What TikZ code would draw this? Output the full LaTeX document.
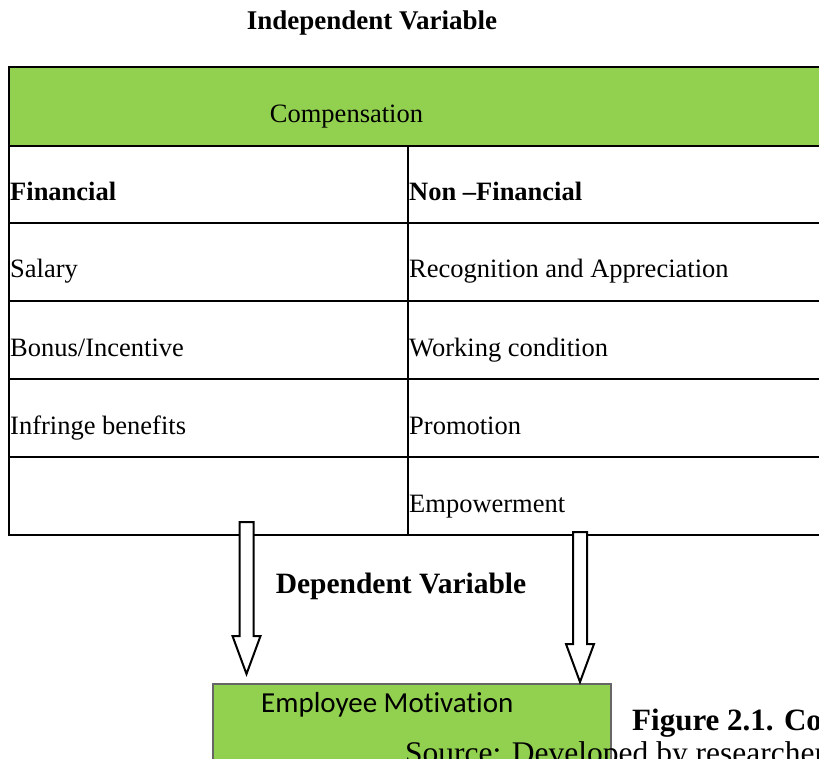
\documentclass[tikz,border=0pt]{standalone}
\usepackage{fontspec}
\setmainfont{Liberation Serif}
\newfontfamily\calibri[Ligatures=NoCommon]{Carlito}
\usepackage{xcolor}
\usepackage{tikz}
\usetikzlibrary{calc}

\definecolor{officegreen}{RGB}{146,208,80}

\tikzset{
    cell/.style={anchor=base west, inner sep=0pt, font=\fontsize{26.5}{31}\selectfont},
    headcell/.style={cell, font=\fontsize{26.5}{31}\selectfont\bfseries},
    arrowline/.style={draw=black, line width=2pt, fill=white, line join=miter},
    tableline/.style={line width=2pt},
}

% hollow block arrow from the top of its shaft down to its tip
\newcommand\blockarrow[3]{%
    \draw[arrowline] ($(#1)+(-7,0)$) -- ($(#1)+(7,0)$) -- ($(#2)+(7,-#3)$)
        -- ($(#2)+(14,-#3)$) -- (#2) -- ($(#2)+(-14,-#3)$) -- ($(#2)+(-7,-#3)$) -- cycle;
}

\begin{document}
\begin{tikzpicture}[x=1pt, y=-1pt]
    \useasboundingbox (0,0) rectangle (819,759);
    \clip (0,0) rectangle (819,759);

    \node[anchor=base, inner sep=0pt, font=\fontsize{27}{32}\selectfont\bfseries] (indep) at (372,30) {Independent Variable};

    % compensation table
    \fill[officegreen] (9,67) rectangle (840,146);
    \draw[tableline] (840,67) -- (9,67) -- (9,535) -- (840,535);
    \foreach \y in {146,223,301,379,457}
        \draw[tableline] (9,\y) -- (840,\y);
    \draw[tableline] (408,146) -- (408,535);

    \node[anchor=base, inner sep=0pt, font=\fontsize{26.5}{31}\selectfont] (comp) at (346.5,123) {Compensation};
    \node[headcell] (fin) at (10,201) {Financial};
    \node[headcell] (nonfin) at (409,201) {Non --Financial};
    \node[cell] (salary) at (10,278) {Salary};
    \node[cell] (bonus) at (10,356) {Bonus/Incentive};
    \node[cell] (fringe) at (10,434) {Infringe benefits};
    \node[cell] (recog) at (409,278) {Recognition and Appreciation};
    \node[cell] (work) at (409,356) {Working condition};
    \node[cell] (promo) at (409,434) {Promotion};
    \node[cell] (empow) at (409,512) {Empowerment};

    \node[anchor=base, inner sep=0pt, font=\fontsize{29.5}{35}\selectfont\bfseries] (dep) at (401,593) {Dependent Variable};

    % dependent variable box
    \node[draw=black!60, line width=1.5pt, fill=officegreen, anchor=north west,
        minimum width=398pt, minimum height=120pt, inner sep=0pt] (motiv) at (212,683) {};
    \node[anchor=base west, inner sep=0pt, font=\calibri\fontsize{29}{34}\selectfont] (motivtext) at (261,712) {Employee Motivation};

    % arrows from the table to the box
    \coordinate (la-top) at (246.5,522);
    \coordinate (la-tip) at (246.5,674);
    \coordinate (ra-top) at (580,532);
    \coordinate (ra-tip) at (580,682);
    \blockarrow{la-top}{la-tip}{38}
    \blockarrow{ra-top}{ra-tip}{38}

    \node[anchor=base west, inner sep=0pt, font=\fontsize{31}{37}\selectfont\bfseries] (figcap) at (632,730) {Figure 2.1. Conceptual Framework};
    \node[anchor=base west, inner sep=0pt, font=\fontsize{31.5}{37}\selectfont] (source) at (405,763) {Source: Developed by researcher};
\end{tikzpicture}
\end{document}
